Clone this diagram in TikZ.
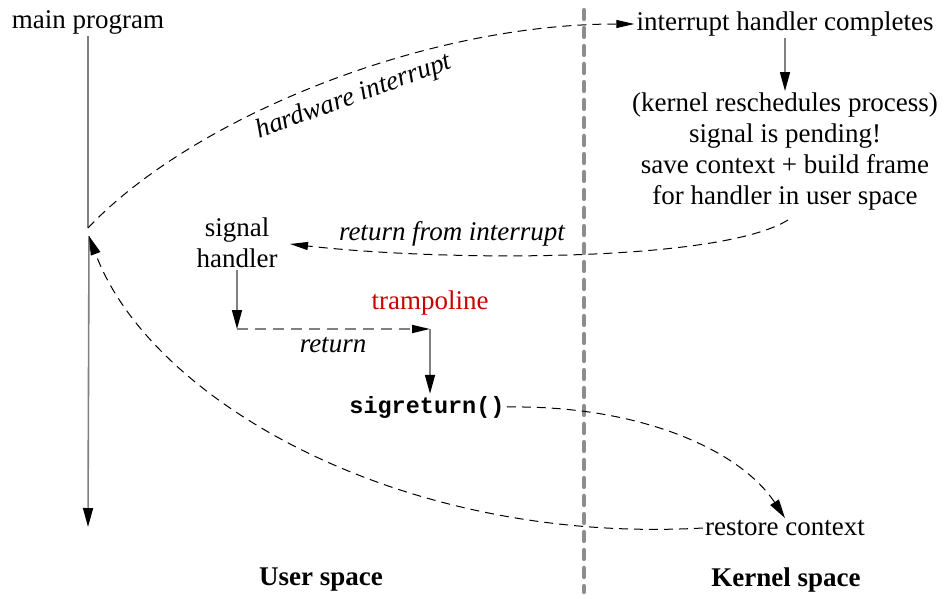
\documentclass[tikz,border=0pt]{standalone}
\usepackage{fontspec}
\setmainfont{Liberation Serif}
\setmonofont{Liberation Mono}
\usetikzlibrary{arrows.meta}
\definecolor{lgray}{RGB}{128,128,128}
\definecolor{tred}{RGB}{204,0,0}
\tikzset{
  every node/.style={font=\fontsize{27}{31}\selectfont, inner sep=2pt},
  lbl/.style={font=\fontsize{27}{31}\selectfont\itshape},
  bigtip/.style={-{Triangle[length=19pt,width=10pt,color=black]}},
  smalltip/.style={-{Triangle[length=18pt,width=8pt,color=black]}},
  flow/.style={draw=lgray, line width=1.6pt},
  thindash/.style={draw=black, line width=1pt, dash pattern=on 9pt off 6pt},
  graydash/.style={draw=lgray, line width=1.6pt, dash pattern=on 11pt off 7pt},
}
\begin{document}
\begin{tikzpicture}[x=1pt,y=-1pt]
\useasboundingbox (0,0) rectangle (944,599);
% divider
\draw[lgray!90, line width=4.2pt, dash pattern=on 9pt off 9pt, line cap=round] (584,10) -- (584,592);
% nodes
\node (main) at (88,22) {main program};
\node (ihc) at (785,24) {interrupt handler completes};
\node[align=center] (kern) at (785,152) {(kernel reschedules process)\\signal is pending!\\save context + build frame\\for handler in user space};
\node[align=center] (sh) at (237,243) {signal\\handler};
\node[text=tred] (tramp) at (430,303) {trampoline};
\node[font=\fontsize{23.5}{28}\selectfont\ttfamily\bfseries] (sigret) at (427,407) {sigreturn()};
\node (restore) at (785,528) {restore context};
\node[font=\fontsize{27}{31}\selectfont\bfseries] (us) at (321,580) {User space};
\node[font=\fontsize{27}{31}\selectfont\bfseries] (ks) at (786,580) {Kernel space};
% coordinates
\coordinate (intr) at (88,228);
\coordinate (back) at (89,236);
\coordinate (mend) at (88,527);
\coordinate (c1) at (237,329);
\coordinate (c2) at (430,329);
\coordinate (rfi) at (290,244);
% main program line
\draw[flow] (main.south) -- (intr);
\draw[flow, bigtip] (back) -- (mend);
% hardware interrupt
\draw[thindash, smalltip] (intr) .. controls (190,120) and (420,24) .. (ihc.west);
\node[lbl, rotate=20] (hwlbl) at (354,97) {hardware interrupt};
% kernel
\draw[flow, bigtip] (ihc.south) -- (kern.north);
% return from interrupt
\draw[thindash, smalltip] (788,220) .. controls (720,262) and (450,262) .. (rfi);
\node[lbl] (rfilbl) at (452,234) {return from interrupt};
% signal handler to trampoline
\draw[flow, bigtip] (sh.south) -- (c1);
\draw[graydash, smalltip] (c1) -- (c2);
\node[lbl] (retlbl) at (333,345) {return};
\draw[flow, bigtip] (c2) -- (c2 |- sigret.north);
% sigreturn to restore
\draw[thindash, bigtip] (sigret.east) .. controls (640,405) and (740,450) .. (restore.north);
% restore back to main
\draw[thindash, bigtip] (restore.west) .. controls (400,545) and (150,400) .. (back);
\end{tikzpicture}
\end{document}
